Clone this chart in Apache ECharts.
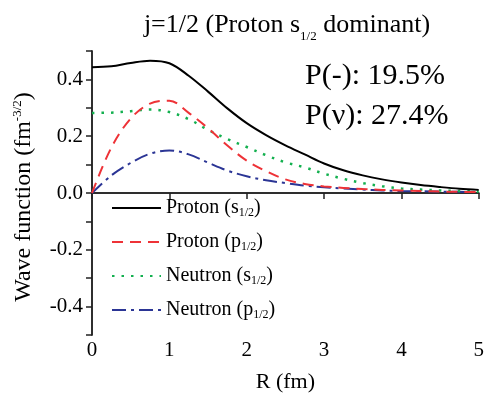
<!DOCTYPE html>
<html>
<head>
<meta charset="utf-8">
<script src="https://cdn.jsdelivr.net/npm/echarts@6/dist/echarts.min.js"></script>
<style>html,body{margin:0;padding:0;background:#fff}#c{width:487px;height:400px}</style>
</head>
<body>
<div id="c"></div>
<script>
const R = [0, 0.25, 0.5, 0.75, 1.0, 1.25, 1.5, 1.75, 2.0, 2.25, 2.5, 2.75, 3.0, 3.25, 3.5, 3.75, 4.0, 4.25, 4.5, 4.75, 5.0];
const protonS = [0.443, 0.446, 0.458, 0.466, 0.457, 0.413, 0.357, 0.298, 0.246, 0.204, 0.168, 0.136, 0.104, 0.080, 0.062, 0.048, 0.037, 0.028, 0.021, 0.015, 0.011];
const protonP = [0, 0.16, 0.262, 0.315, 0.325, 0.282, 0.228, 0.167, 0.114, 0.077, 0.048, 0.032, 0.023, 0.018, 0.014, 0.011, 0.009, 0.007, 0.005, 0.004, 0.003];
const neutronS = [0.282, 0.283, 0.288, 0.294, 0.285, 0.26, 0.222, 0.19, 0.162, 0.133, 0.108, 0.09, 0.068, 0.05, 0.035, 0.024, 0.016, 0.012, 0.009, 0.007, 0.005];
const neutronP = [0, 0.062, 0.106, 0.138, 0.15, 0.136, 0.107, 0.079, 0.059, 0.045, 0.035, 0.026, 0.02, 0.016, 0.012, 0.009, 0.007, 0.006, 0.005, 0.004, 0.003];
const xTicks = ['0', '1', '2', '3', '4', '5'];
const yTicks = ['-0.4', '-0.2', '0.0', '0.2', '0.4'];
const seriesNames = ['Proton (s1/2)', 'Proton (p1/2)', 'Neutron (s1/2)', 'Neutron (p1/2)'];
const legendRich = ['{m|Proton (s}{sub|1/2}{m|)}', '{m|Proton (p}{sub|1/2}{m|)}', '{m|Neutron (s}{sub|1/2}{m|)}', '{m|Neutron (p}{sub|1/2}{m|)}'];
const titleText = '{m|j=1/2 (Proton s}{sub|1/2}{m| dominant)}';
const yName = '{m|Wave function (fm}{sup|-3/2}{m|)}';
const xName = 'R (fm)';
const annot1 = 'P(-): 19.5%';
const annot2 = 'P(\u03bd): 27.4%';

const FONT = '"Liberation Serif", "Times New Roman", serif';
const mk = (arr) => R.map((r, i) => [r, arr[i]]);
const chart = echarts.init(document.getElementById('c'), null, {renderer: 'canvas'});
const axisLine = {show: true, lineStyle: {color: '#222', width: 1.5}};
const styles = [
  {color: '#000000', type: 'solid', width: 2},
  {color: '#ee3237', type: [11, 7], width: 2},
  {color: '#13b04f', type: [2.5, 7], width: 2.5},
  {color: '#2b3595', type: [14, 5, 3, 5], width: 2}
];
const datas = [protonS, protonP, neutronS, neutronP];
const tickRich = {t: {fontFamily: FONT, fontSize: 21, color: '#000'}};
chart.setOption({
  animation: false,
  textStyle: {fontFamily: FONT, color: '#000'},
  title: {
    text: titleText, left: 282, top: 3, textAlign: 'center',
    textStyle: {fontWeight: 'normal', fontFamily: FONT, rich: {
      m: {fontFamily: FONT, fontWeight: 'normal', fontSize: 26, color: '#000', lineHeight: 35},
      sub: {fontFamily: FONT, fontWeight: 'normal', fontSize: 13, color: '#000', lineHeight: 13, verticalAlign: 'bottom'}
    }}
  },
  grid: {left: 92, right: 1, top: 51, bottom: 65, containLabel: false},
  legend: {
    orient: 'vertical', left: 106, top: 193, itemWidth: 49, itemHeight: 14, itemGap: 13,
    data: seriesNames,
    itemStyle: {opacity: 0},
    formatter: (n) => legendRich[seriesNames.indexOf(n)],
    textStyle: {fontFamily: FONT, rich: {
      m: {fontFamily: FONT, fontSize: 20, color: '#000', lineHeight: 22},
      sub: {fontFamily: FONT, fontSize: 12, color: '#000', lineHeight: 12, verticalAlign: 'bottom'}
    }}
  },
  xAxis: [
    {type: 'value', min: 0, max: 5, interval: 1, position: 'bottom',
     name: xName, nameLocation: 'middle', nameGap: 36,
     nameTextStyle: {fontFamily: FONT, fontSize: 22, color: '#000'},
     axisLine: axisLine, axisTick: {show: true, inside: false, length: 5, lineStyle: {color: '#222', width: 1.5}},
     axisLabel: {margin: 5, rich: tickRich,
       formatter: (v) => { const s = xTicks.find(t => Math.abs(Number(t) - v) < 1e-6); return s === undefined ? '' : '{t|' + s + '}'; }},
     splitLine: {show: false}},
    {type: 'value', min: 0, max: 5, interval: 1, position: 'top',
     axisLine: axisLine, axisTick: {show: true, inside: true, length: 6, lineStyle: {color: '#222', width: 1.5}},
     axisLabel: {show: false}, splitLine: {show: false}}
  ],
  yAxis: [
    {type: 'value', min: -0.5, max: 0.5, interval: 0.1, position: 'left',
     name: yName, nameLocation: 'middle', nameGap: 55, nameRotate: 90,
     nameTextStyle: {fontFamily: FONT, padding: [0, 8, 0, 0], rich: {
       m: {fontFamily: FONT, fontSize: 24, color: '#000', lineHeight: 26},
       sup: {fontFamily: FONT, fontSize: 13, color: '#000', lineHeight: 14, verticalAlign: 'top'}
     }},
     axisLine: axisLine, axisTick: {show: true, inside: false, length: 5, lineStyle: {color: '#222', width: 1.5}},
     axisLabel: {margin: 9, rich: tickRich,
       formatter: (v) => { const s = yTicks.find(t => Math.abs(Number(t) - v) < 1e-6); return s === undefined ? '' : '{t|' + s + '}'; }},
     splitLine: {show: false}},
    {type: 'value', min: -0.5, max: 0.5, interval: 0.1, position: 'right',
     axisLine: axisLine, axisTick: {show: true, inside: true, length: 6, lineStyle: {color: '#222', width: 1.5}},
     axisLabel: {show: false}, splitLine: {show: false}}
  ],
  series: datas.map((d, i) => ({
    name: seriesNames[i], type: 'line', data: mk(d), smooth: 0.35, symbol: 'none',
    xAxisIndex: 0, yAxisIndex: 0,
    lineStyle: styles[i], itemStyle: {color: styles[i].color}, z: 10 - i
  })),
  graphic: [
    {type: 'text', left: 305, top: 61, style: {text: annot1, font: '30px ' + FONT, fill: '#000'}},
    {type: 'text', left: 305, top: 101, style: {text: annot2, font: '30px ' + FONT, fill: '#000'}}
  ]
});
</script>
</body>
</html>
